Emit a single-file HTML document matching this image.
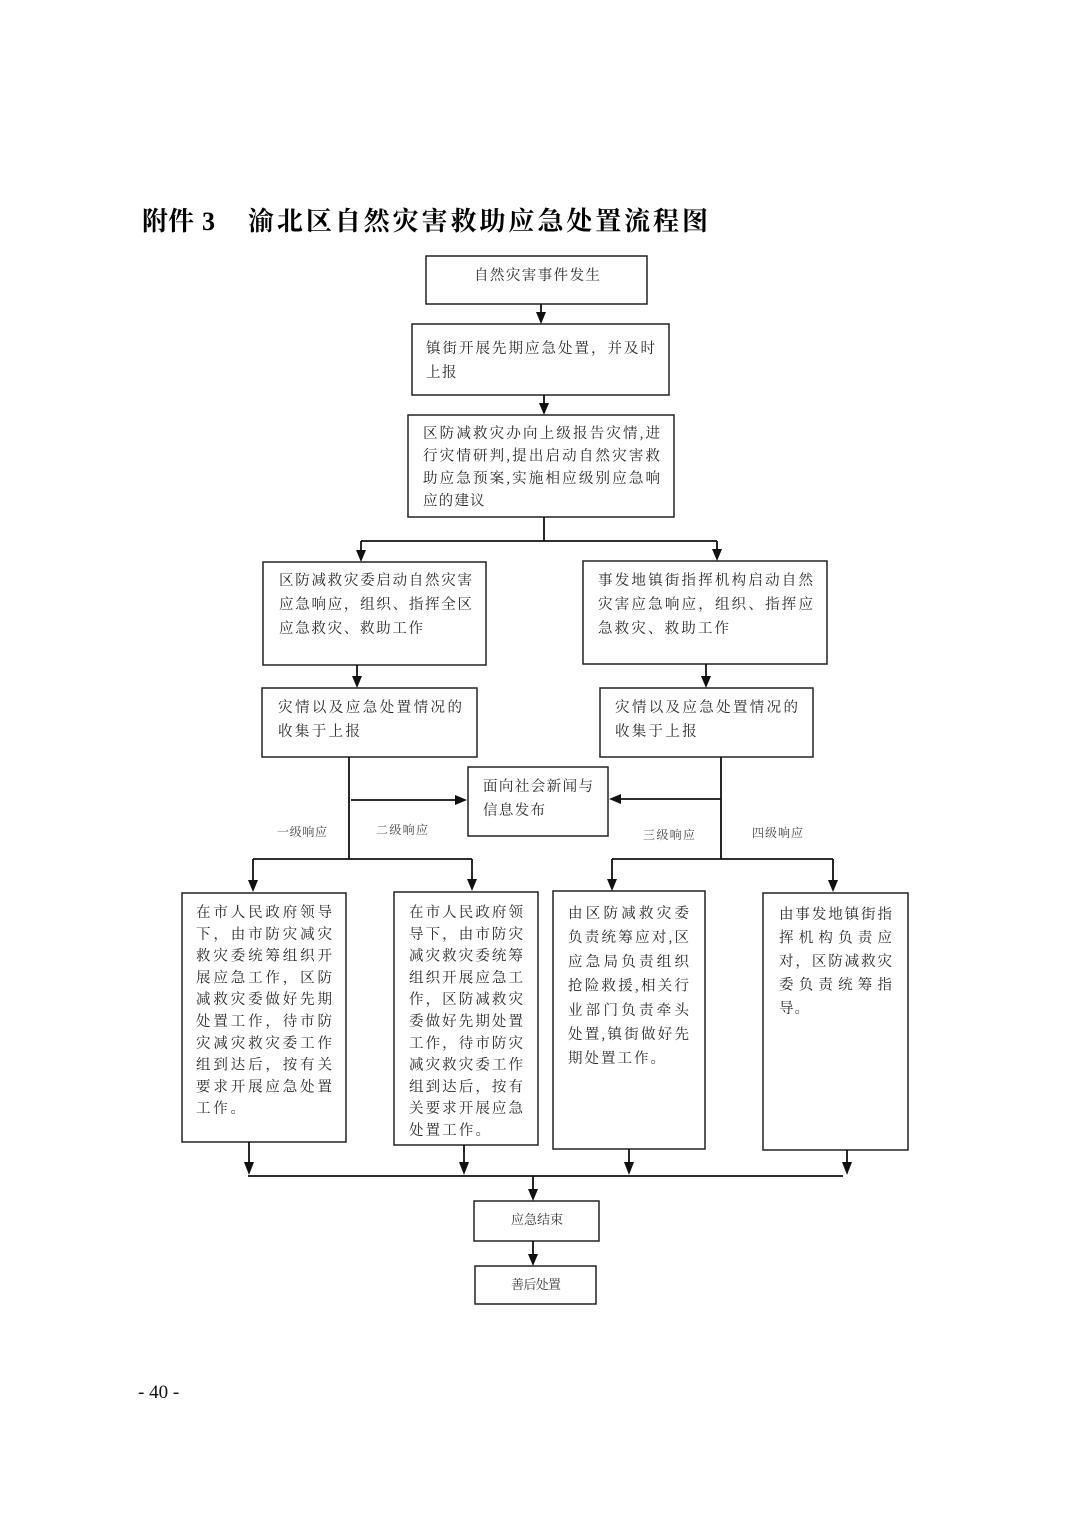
<!DOCTYPE html>
<html lang="zh-CN">
<head>
<meta charset="utf-8">
<style>
  html,body{margin:0;padding:0;background:#fff;}
  body{width:1074px;height:1520px;overflow:hidden;}
  svg{display:block;}
  .t{font-family:"Liberation Serif","Noto Serif CJK SC",serif;font-size:14.5px;fill:#2a2a2a;}
  .s{font-family:"Liberation Serif","Noto Serif CJK SC",serif;font-size:12px;fill:#444;}
  .m{font-family:"Liberation Serif","Noto Serif CJK SC",serif;font-size:13px;fill:#333;}
  .ttl{font-family:"Liberation Serif","Noto Serif CJK SC",serif;font-size:26px;font-weight:700;fill:#000;}
  .box{fill:none;stroke:#222;stroke-width:1.5;}
  .ln{fill:none;stroke:#111;stroke-width:1.8;}
  .ah{fill:#111;stroke:none;}
</style>
</head>
<body>
<svg width="1074" height="1520" viewBox="0 0 1074 1520" xmlns="http://www.w3.org/2000/svg">
  <!-- Title -->
  <text class="ttl" x="142" y="230" textLength="52" lengthAdjust="spacing">附件</text>
  <text class="ttl" x="202" y="230" style="font-family:'Liberation Serif',serif;">3</text>
  <text class="ttl" x="248" y="230" textLength="460" lengthAdjust="spacing">渝北区自然灾害救助应急处置流程图</text>

  <!-- Boxes -->
  <rect class="box" x="426" y="256" width="221" height="48"/>
  <rect class="box" x="412" y="324" width="257" height="71"/>
  <rect class="box" x="408" y="415" width="266" height="102"/>
  <rect class="box" x="263" y="562" width="223" height="103"/>
  <rect class="box" x="583" y="561" width="244" height="103"/>
  <rect class="box" x="262" y="688" width="215" height="69"/>
  <rect class="box" x="600" y="688" width="213" height="69"/>
  <rect class="box" x="468" y="767" width="140" height="69"/>
  <rect class="box" x="182" y="893" width="164" height="249"/>
  <rect class="box" x="394" y="892" width="144" height="253"/>
  <rect class="box" x="553" y="891" width="152" height="258"/>
  <rect class="box" x="763" y="893" width="145" height="257"/>
  <rect class="box" x="474" y="1201" width="125" height="40"/>
  <rect class="box" x="475" y="1266" width="121" height="38"/>

  <!-- Connectors -->
  <line class="ln" x1="541" y1="304" x2="541" y2="314"/>
  <polygon class="ah" points="536,312 546,312 541,324"/>

  <line class="ln" x1="544" y1="395" x2="544" y2="405"/>
  <polygon class="ah" points="539,403 549,403 544,415"/>

  <line class="ln" x1="544" y1="517" x2="544" y2="541"/>
  <line class="ln" x1="361" y1="541" x2="717" y2="541"/>
  <line class="ln" x1="361" y1="541" x2="361" y2="552"/>
  <polygon class="ah" points="356,550 366,550 361,562"/>
  <line class="ln" x1="717" y1="541" x2="717" y2="551"/>
  <polygon class="ah" points="712,549 722,549 717,561"/>

  <line class="ln" x1="357" y1="665" x2="357" y2="678"/>
  <polygon class="ah" points="352,676 362,676 357,688"/>
  <line class="ln" x1="706" y1="664" x2="706" y2="678"/>
  <polygon class="ah" points="701,676 711,676 706,688"/>

  <line class="ln" x1="349" y1="757" x2="349" y2="859"/>
  <line class="ln" x1="351" y1="800" x2="456" y2="800"/>
  <polygon class="ah" points="455,795 455,805 467,800"/>
  <line class="ln" x1="721" y1="757" x2="721" y2="859"/>
  <line class="ln" x1="721" y1="799" x2="620" y2="799"/>
  <polygon class="ah" points="621,794 621,804 609,799"/>

  <line class="ln" x1="253" y1="859" x2="472" y2="859"/>
  <line class="ln" x1="253" y1="859" x2="253" y2="882"/>
  <polygon class="ah" points="248,880 258,880 253,892"/>
  <line class="ln" x1="472" y1="859" x2="472" y2="881"/>
  <polygon class="ah" points="467,879 477,879 472,891"/>

  <line class="ln" x1="612" y1="859" x2="833" y2="859"/>
  <line class="ln" x1="612" y1="859" x2="612" y2="881"/>
  <polygon class="ah" points="607,879 617,879 612,891"/>
  <line class="ln" x1="833" y1="859" x2="833" y2="882"/>
  <polygon class="ah" points="828,880 838,880 833,892"/>

  <line class="ln" x1="249" y1="1142" x2="249" y2="1164"/>
  <polygon class="ah" points="244,1162 254,1162 249,1175"/>
  <line class="ln" x1="464" y1="1145" x2="464" y2="1164"/>
  <polygon class="ah" points="459,1162 469,1162 464,1175"/>
  <line class="ln" x1="629" y1="1149" x2="629" y2="1164"/>
  <polygon class="ah" points="624,1162 634,1162 629,1175"/>
  <line class="ln" x1="847" y1="1150" x2="847" y2="1164"/>
  <polygon class="ah" points="842,1162 852,1162 847,1175"/>
  <line class="ln" x1="248" y1="1176" x2="843" y2="1176"/>

  <line class="ln" x1="533" y1="1176" x2="533" y2="1190"/>
  <polygon class="ah" points="528,1189 538,1189 533,1201"/>
  <line class="ln" x1="533" y1="1241" x2="533" y2="1255"/>
  <polygon class="ah" points="528,1254 538,1254 533,1266"/>

  <!-- Box A -->
  <text class="t" x="474" y="280" textLength="126" lengthAdjust="spacing">自然灾害事件发生</text>

  <!-- Box B -->
  <text class="t" x="426" y="353" textLength="229" lengthAdjust="spacing">镇街开展先期应急处置，并及时</text>
  <text class="t" x="426" y="377" textLength="30.5" lengthAdjust="spacing">上报</text>

  <!-- Box C -->
  <text class="t" x="423" y="438" textLength="237" lengthAdjust="spacing">区防减救灾办向上级报告灾情,进</text>
  <text class="t" x="423" y="460.5" textLength="237" lengthAdjust="spacing">行灾情研判,提出启动自然灾害救</text>
  <text class="t" x="423" y="483" textLength="237" lengthAdjust="spacing">助应急预案,实施相应级别应急响</text>
  <text class="t" x="423" y="505.5" textLength="61.5" lengthAdjust="spacing">应的建议</text>

  <!-- Box D -->
  <text class="t" x="279" y="585" textLength="193" lengthAdjust="spacing">区防减救灾委启动自然灾害</text>
  <text class="t" x="279" y="609" textLength="193" lengthAdjust="spacing">应急响应，组织、指挥全区</text>
  <text class="t" x="279" y="633" textLength="144" lengthAdjust="spacing">应急救灾、救助工作</text>

  <!-- Box E -->
  <text class="t" x="598" y="585" textLength="215" lengthAdjust="spacing">事发地镇街指挥机构启动自然</text>
  <text class="t" x="598" y="609" textLength="215" lengthAdjust="spacing">灾害应急响应，组织、指挥应</text>
  <text class="t" x="598" y="633" textLength="131" lengthAdjust="spacing">急救灾、救助工作</text>

  <!-- Box F -->
  <text class="t" x="278" y="712" textLength="184" lengthAdjust="spacing">灾情以及应急处置情况的</text>
  <text class="t" x="278" y="736" textLength="82" lengthAdjust="spacing">收集于上报</text>

  <!-- Box G -->
  <text class="t" x="615" y="712" textLength="183" lengthAdjust="spacing">灾情以及应急处置情况的</text>
  <text class="t" x="615" y="736" textLength="81.6" lengthAdjust="spacing">收集于上报</text>

  <!-- Box H -->
  <text class="t" x="483" y="791" textLength="110" lengthAdjust="spacing">面向社会新闻与</text>
  <text class="t" x="483" y="815" textLength="62" lengthAdjust="spacing">信息发布</text>

  <!-- Labels -->
  <text class="s" x="277" y="836" textLength="50" lengthAdjust="spacing">一级响应</text>
  <text class="s" x="376" y="834" textLength="52" lengthAdjust="spacing">二级响应</text>
  <text class="s" x="643" y="839" textLength="52" lengthAdjust="spacing">三级响应</text>
  <text class="s" x="752" y="837" textLength="51" lengthAdjust="spacing">四级响应</text>

  <!-- Box I -->
  <text class="t" x="196" y="917" textLength="136" lengthAdjust="spacing">在市人民政府领导</text>
  <text class="t" x="196" y="938.8" textLength="136" lengthAdjust="spacing">下，由市防灾减灾</text>
  <text class="t" x="196" y="960.6" textLength="136" lengthAdjust="spacing">救灾委统筹组织开</text>
  <text class="t" x="196" y="982.4" textLength="136" lengthAdjust="spacing">展应急工作，区防</text>
  <text class="t" x="196" y="1004.2" textLength="136" lengthAdjust="spacing">减救灾委做好先期</text>
  <text class="t" x="196" y="1026" textLength="136" lengthAdjust="spacing">处置工作，待市防</text>
  <text class="t" x="196" y="1047.8" textLength="136" lengthAdjust="spacing">灾减灾救灾委工作</text>
  <text class="t" x="196" y="1069.6" textLength="136" lengthAdjust="spacing">组到达后，按有关</text>
  <text class="t" x="196" y="1091.4" textLength="136" lengthAdjust="spacing">要求开展应急处置</text>
  <text class="t" x="196" y="1113.2" textLength="49" lengthAdjust="spacing">工作。</text>

  <!-- Box J -->
  <text class="t" x="409" y="917" textLength="114" lengthAdjust="spacing">在市人民政府领</text>
  <text class="t" x="409" y="938.8" textLength="114" lengthAdjust="spacing">导下，由市防灾</text>
  <text class="t" x="409" y="960.6" textLength="114" lengthAdjust="spacing">减灾救灾委统筹</text>
  <text class="t" x="409" y="982.4" textLength="114" lengthAdjust="spacing">组织开展应急工</text>
  <text class="t" x="409" y="1004.2" textLength="114" lengthAdjust="spacing">作，区防减救灾</text>
  <text class="t" x="409" y="1026" textLength="114" lengthAdjust="spacing">委做好先期处置</text>
  <text class="t" x="409" y="1047.8" textLength="114" lengthAdjust="spacing">工作，待市防灾</text>
  <text class="t" x="409" y="1069.6" textLength="114" lengthAdjust="spacing">减灾救灾委工作</text>
  <text class="t" x="409" y="1091.4" textLength="114" lengthAdjust="spacing">组到达后，按有</text>
  <text class="t" x="409" y="1113.2" textLength="114" lengthAdjust="spacing">关要求开展应急</text>
  <text class="t" x="409" y="1135" textLength="81" lengthAdjust="spacing">处置工作。</text>

  <!-- Box K -->
  <text class="t" x="568" y="918" textLength="121" lengthAdjust="spacing">由区防减救灾委</text>
  <text class="t" x="568" y="942.2" textLength="121" lengthAdjust="spacing">负责统筹应对,区</text>
  <text class="t" x="568" y="966.4" textLength="121" lengthAdjust="spacing">应急局负责组织</text>
  <text class="t" x="568" y="990.6" textLength="121" lengthAdjust="spacing">抢险救援,相关行</text>
  <text class="t" x="568" y="1014.8" textLength="121" lengthAdjust="spacing">业部门负责牵头</text>
  <text class="t" x="568" y="1039" textLength="121" lengthAdjust="spacing">处置,镇街做好先</text>
  <text class="t" x="568" y="1063.2" textLength="97" lengthAdjust="spacing">期处置工作。</text>

  <!-- Box L -->
  <text class="t" x="779" y="919" textLength="113" lengthAdjust="spacing">由事发地镇街指</text>
  <text class="t" x="779" y="942.5" textLength="113" lengthAdjust="spacing">挥机构负责应</text>
  <text class="t" x="779" y="966" textLength="113" lengthAdjust="spacing">对，区防减救灾</text>
  <text class="t" x="779" y="989.5" textLength="113" lengthAdjust="spacing">委负责统筹指</text>
  <text class="t" x="779" y="1013" textLength="30" lengthAdjust="spacing">导。</text>

  <!-- Box M / N -->
  <text class="m" x="511" y="1224" textLength="52" lengthAdjust="spacing">应急结束</text>
  <text class="m" x="511" y="1289" textLength="50" lengthAdjust="spacing">善后处置</text>

  <!-- Footer -->
  <text x="138" y="1398" style="font-family:'Liberation Serif',serif;font-size:19px;fill:#111;">- 40 -</text>
</svg>
</body>
</html>
